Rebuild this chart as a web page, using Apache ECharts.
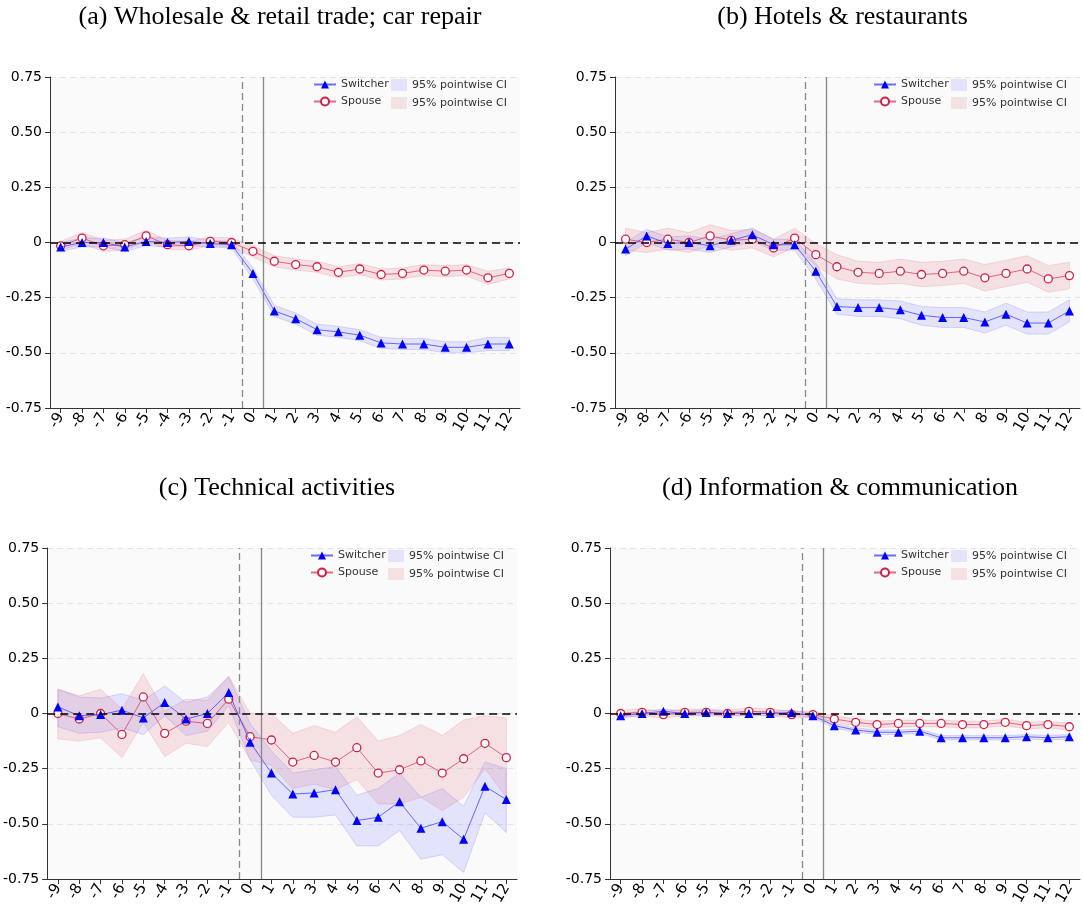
<!DOCTYPE html>
<html>
<head>
<meta charset="utf-8">
<script src="https://cdn.jsdelivr.net/npm/echarts@6/dist/echarts.min.js"></script>
<style>html,body{margin:0;padding:0;background:#fff}#chart{width:1083px;height:915px}</style>
</head>
<body>
<div id="chart"></div>
<script>
var periods = [-9,-8,-7,-6,-5,-4,-3,-2,-1,0,1,2,3,4,5,6,7,8,9,10,11,12];
var titles = ['(a) Wholesale & retail trade; car repair', '(b) Hotels & restaurants', '(c) Technical activities', '(d) Information & communication'];

// (a)
var aSw = [-0.02,0,0,-0.02,0.005,0,0.005,-0.005,-0.01,-0.14,-0.31,-0.345,-0.395,-0.405,-0.42,-0.455,-0.46,-0.46,-0.475,-0.475,-0.46,-0.46];
var aSwLo = [-0.04,-0.02,-0.02,-0.04,-0.015,-0.02,-0.015,-0.02,-0.025,-0.165,-0.335,-0.37,-0.42,-0.43,-0.445,-0.48,-0.485,-0.485,-0.5,-0.5,-0.49,-0.49];
var aSwHi = [0,0.02,0.02,0,0.025,0.02,0.025,0.01,0.005,-0.115,-0.285,-0.32,-0.37,-0.38,-0.395,-0.43,-0.435,-0.435,-0.45,-0.45,-0.43,-0.43];
var aSp = [-0.015,0.02,-0.015,-0.01,0.03,-0.01,-0.015,0.005,0,-0.04,-0.085,-0.1,-0.11,-0.135,-0.12,-0.145,-0.14,-0.125,-0.13,-0.125,-0.16,-0.14];
var aSpLo = [-0.035,-0.005,-0.04,-0.035,0.005,-0.03,-0.035,-0.015,-0.02,-0.065,-0.11,-0.125,-0.135,-0.16,-0.145,-0.17,-0.165,-0.15,-0.155,-0.15,-0.19,-0.165];
var aSpHi = [0.005,0.045,0.01,0.015,0.055,0.01,0.005,0.025,0.02,-0.015,-0.06,-0.075,-0.085,-0.11,-0.095,-0.12,-0.115,-0.1,-0.105,-0.1,-0.13,-0.115];

// (b)
var bSw = [-0.03,0.03,-0.005,0,-0.015,0.01,0.035,-0.01,-0.01,-0.13,-0.29,-0.295,-0.295,-0.305,-0.33,-0.34,-0.34,-0.36,-0.325,-0.365,-0.365,-0.31];
var bSwLo = [-0.06,0,-0.035,-0.03,-0.045,-0.02,0.005,-0.035,-0.035,-0.165,-0.325,-0.335,-0.335,-0.345,-0.375,-0.385,-0.385,-0.41,-0.375,-0.415,-0.415,-0.36];
var bSwHi = [0,0.06,0.025,0.03,0.015,0.04,0.065,0.015,0.015,-0.095,-0.255,-0.26,-0.26,-0.265,-0.29,-0.295,-0.295,-0.315,-0.275,-0.315,-0.315,-0.26];
var bSp = [0.015,0,0.015,0,0.03,0.01,0.015,-0.025,0.02,-0.055,-0.11,-0.135,-0.14,-0.13,-0.145,-0.14,-0.13,-0.16,-0.14,-0.12,-0.165,-0.15];
var bSpLo = [-0.035,-0.045,-0.03,-0.045,-0.015,-0.035,-0.025,-0.065,-0.02,-0.105,-0.165,-0.185,-0.19,-0.185,-0.2,-0.195,-0.185,-0.22,-0.2,-0.18,-0.225,-0.21];
var bSpHi = [0.065,0.045,0.065,0.045,0.08,0.055,0.06,0.015,0.065,-0.005,-0.055,-0.085,-0.09,-0.075,-0.09,-0.085,-0.075,-0.1,-0.08,-0.06,-0.105,-0.09];

// (c)
var cSw = [0.03,-0.01,-0.005,0.015,-0.02,0.05,-0.025,0,0.095,-0.13,-0.27,-0.365,-0.36,-0.345,-0.485,-0.47,-0.4,-0.52,-0.49,-0.57,-0.33,-0.39];
var cSwLo = [-0.06,-0.09,-0.085,-0.065,-0.095,-0.01,-0.1,-0.08,0.035,-0.21,-0.37,-0.47,-0.47,-0.46,-0.6,-0.6,-0.53,-0.66,-0.64,-0.72,-0.45,-0.54];
var cSwHi = [0.11,0.075,0.07,0.09,0.06,0.125,0.05,0.075,0.165,-0.045,-0.17,-0.27,-0.255,-0.24,-0.37,-0.34,-0.27,-0.38,-0.34,-0.42,-0.22,-0.25];
var cSp = [0,-0.025,0,-0.095,0.075,-0.09,-0.035,-0.045,0.065,-0.105,-0.12,-0.22,-0.19,-0.22,-0.155,-0.27,-0.255,-0.215,-0.27,-0.205,-0.135,-0.2];
var cSpLo = [-0.115,-0.125,-0.11,-0.2,-0.04,-0.195,-0.135,-0.15,-0.04,-0.21,-0.235,-0.34,-0.32,-0.345,-0.3,-0.41,-0.41,-0.38,-0.44,-0.38,-0.25,-0.38];
var cSpHi = [0.11,0.08,0.11,0.02,0.18,0.01,0.065,0.06,0.17,0,0,-0.09,-0.055,-0.085,-0.015,-0.125,-0.1,-0.05,-0.1,-0.03,-0.01,-0.02];

// (d)
var dSw = [-0.01,0,0.01,0,0.005,0,0,0,0.005,-0.01,-0.055,-0.075,-0.085,-0.085,-0.08,-0.11,-0.11,-0.11,-0.11,-0.105,-0.11,-0.105];
var dSwLo = [-0.02,-0.01,0,-0.01,-0.005,-0.01,-0.01,-0.01,-0.005,-0.02,-0.065,-0.085,-0.095,-0.095,-0.09,-0.12,-0.12,-0.12,-0.12,-0.115,-0.12,-0.115];
var dSwHi = [0,0.01,0.02,0.01,0.015,0.01,0.01,0.01,0.015,0,-0.045,-0.065,-0.075,-0.075,-0.07,-0.1,-0.1,-0.1,-0.1,-0.095,-0.1,-0.095];
var dSp = [0,0.005,-0.005,0.005,0.005,0,0.01,0.005,-0.005,-0.005,-0.025,-0.04,-0.05,-0.045,-0.045,-0.045,-0.05,-0.05,-0.04,-0.055,-0.05,-0.06];
var dSpLo = [-0.015,-0.01,-0.02,-0.01,-0.01,-0.015,-0.005,-0.01,-0.02,-0.02,-0.04,-0.055,-0.065,-0.06,-0.06,-0.06,-0.065,-0.065,-0.055,-0.07,-0.065,-0.075];
var dSpHi = [0.015,0.02,0.01,0.02,0.02,0.015,0.025,0.02,0.01,0.01,-0.01,-0.025,-0.035,-0.03,-0.03,-0.03,-0.035,-0.035,-0.025,-0.04,-0.035,-0.045];

var panels = [
  { sw: aSw, swLo: aSwLo, swHi: aSwHi, sp: aSp, spLo: aSpLo, spHi: aSpHi, left: 50, top: 77, width: 470 },
  { sw: bSw, swLo: bSwLo, swHi: bSwHi, sp: bSp, spLo: bSpLo, spHi: bSpHi, left: 615, top: 77, width: 465 },
  { sw: cSw, swLo: cSwLo, swHi: cSwHi, sp: cSp, spLo: cSpLo, spHi: cSpHi, left: 47, top: 548, width: 470 },
  { sw: dSw, swLo: dSwLo, swHi: dSwHi, sp: dSp, spLo: dSpLo, spHi: dSpHi, left: 610, top: 548, width: 470 }
];

var BLUE = '#0000ff', RED = '#d21f45';
var BAND_BLUE = 'rgba(110,110,255,0.17)', BAND_RED = 'rgba(220,90,110,0.15)';
var CI1 = '95% pointwise CI', CI2 = '95% pointwise CI ';

function band(gi, lo, hi, fill, stroke, name) {
  return {
    type: 'custom', name: name, xAxisIndex: gi, yAxisIndex: gi, silent: true,
    itemStyle: { color: fill },
    data: periods.map(function(p, i) { return [p, lo[i], hi[i]]; }),
    renderItem: function(params, api) {
      if (params.dataIndex !== 0) return;
      var top = [], bot = [];
      for (var i = 0; i < periods.length; i++) {
        top.push(api.coord([periods[i], hi[i]]));
        bot.unshift(api.coord([periods[i], lo[i]]));
      }
      return { type: 'polygon', shape: { points: top.concat(bot) },
        style: { fill: fill, stroke: stroke, lineWidth: 0.8 } };
    },
    z: 1
  };
}

var grids = [], xAxes = [], yAxes = [], series = [], legends = [], titleList = [];
panels.forEach(function(p, gi) {
  grids.push({ left: p.left, top: p.top, width: p.width, height: 331, show: true,
    backgroundColor: '#fafafa', borderWidth: 0 });
  xAxes.push({ type: 'value', gridIndex: gi, min: -9.5, max: 12.5,
    axisLine: { onZero: false, lineStyle: { color: '#333' } },
    axisTick: { customValues: periods, length: 5, lineStyle: { color: '#333' } },
    axisLabel: { customValues: periods, rotate: 60, color: '#000', fontSize: 15, fontFamily: 'DejaVu Sans', margin: 6 },
    splitLine: { show: false } });
  yAxes.push({ type: 'value', gridIndex: gi, min: -0.75, max: 0.75, interval: 0.25,
    axisLine: { show: true, onZero: false, lineStyle: { color: '#333' } },
    axisTick: { show: true, length: 5, lineStyle: { color: '#333' } },
    axisLabel: { color: '#000', fontSize: 14, fontFamily: 'DejaVu Sans',
      formatter: function(v) { return v === 0 ? '0' : v.toFixed(2); } },
    splitLine: { lineStyle: { color: '#e4e4e4', type: [6, 4] } } });
  series.push(band(gi, p.swLo, p.swHi, BAND_BLUE, 'rgba(110,110,255,0.3)', CI1));
  series.push(band(gi, p.spLo, p.spHi, BAND_RED, 'rgba(220,90,110,0.25)', CI2));
  series.push({ type: 'line', name: 'Switcher', xAxisIndex: gi, yAxisIndex: gi,
    data: periods.map(function(x, i) { return [x, p.sw[i]]; }),
    symbol: 'triangle', symbolSize: 9, itemStyle: { color: BLUE },
    lineStyle: { color: 'rgba(60,60,255,0.75)', width: 1 }, z: 4,
    markLine: { silent: true, symbol: 'none', label: { show: false }, animation: false,
      data: [
        { xAxis: -0.5, lineStyle: { color: '#888', type: [7, 4], width: 1.3 } },
        { xAxis: 0.5, lineStyle: { color: '#888', type: 'solid', width: 1.3 } },
        { yAxis: 0, lineStyle: { color: '#000', type: [8, 5], width: 1.6 } }
      ] } });
  series.push({ type: 'line', name: 'Spouse', xAxisIndex: gi, yAxisIndex: gi,
    data: periods.map(function(x, i) { return [x, p.sp[i]]; }),
    symbol: 'circle', symbolSize: 8, itemStyle: { color: '#fff', borderColor: RED, borderWidth: 1.3 },
    lineStyle: { color: 'rgba(215,60,90,0.75)', width: 1 }, z: 3 });
  var lx = p.left + p.width - 212;
  legends.push({ orient: 'vertical', left: lx, top: p.top - 3, itemGap: 6, itemWidth: 22, itemHeight: 10,
    data: ['Switcher', 'Spouse'], textStyle: { fontSize: 11, color: '#333', fontFamily: 'DejaVu Sans' } });
  legends.push({ orient: 'vertical', left: lx + 78, top: p.top - 3, itemGap: 6, itemWidth: 16, itemHeight: 12,
    data: [{ name: CI1, icon: 'rect' }, { name: CI2, icon: 'rect' }],
    textStyle: { fontSize: 11, color: '#333', fontFamily: 'DejaVu Sans' } });
  titleList.push({ text: titles[gi], left: p.left + p.width / 2 - 10, textAlign: 'center', top: p.top - 78,
    textStyle: { fontFamily: 'Liberation Serif', fontSize: 26, fontWeight: 'normal', color: '#000' } });
});

var chart = echarts.init(document.getElementById('chart'), null, { renderer: 'canvas' });
chart.setOption({
  animation: false,
  title: titleList,
  grid: grids, xAxis: xAxes, yAxis: yAxes,
  legend: legends,
  series: series
});
window.addEventListener('resize', function() { chart.resize(); });
</script>
</body>
</html>
